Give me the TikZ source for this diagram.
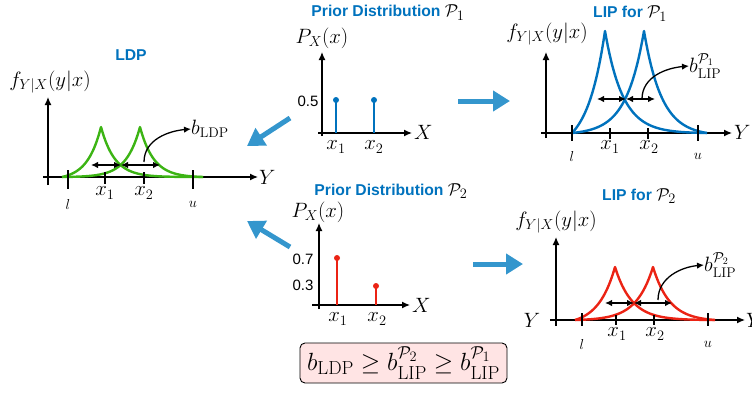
\documentclass[tikz,border=0pt]{standalone}
\usepackage{fontspec}
\usepackage{amsmath,amssymb}
\newfontfamily\hv{Liberation Sans}
\usetikzlibrary{arrows.meta}
\definecolor{tblue}{RGB}{0,114,189}
\definecolor{ablue}{RGB}{52,150,205}
\definecolor{cgreen}{RGB}{60,180,20}
\definecolor{cred}{RGB}{235,35,20}
\definecolor{pinkfill}{RGB}{255,228,228}
\newcommand\lapcurve[7]{%
\draw[#1] plot[domain=#2:#3,samples=40] (\x,{#5-#6*(exp(-(#3-\x)/#7)-exp(-(#3-#2)/#7))/(1-exp(-(#3-#2)/#7))})
 -- plot[domain=#3:#4,samples=70] (\x,{#5-#6*(exp(-(\x-#3)/#7)-exp(-(#4-#3)/#7))/(1-exp(-(#4-#3)/#7))});}
\newcommand\tmath[1]{\textcolor{black}{\mdseries\fontsize{19}{20}\selectfont$#1$}}
\begin{document}
\begin{tikzpicture}[x=1pt,y=-1pt,
  title/.style={font=\hv\bfseries\fontsize{15.7}{18}\selectfont, text=tblue, inner sep=0pt},
  lab/.style={font=\fontsize{20}{24}\selectfont, inner sep=0pt},
  smlab/.style={font=\fontsize{14}{16}\selectfont, inner sep=0pt},
  num/.style={font=\hv\fontsize{15}{17}\selectfont, inner sep=0pt},
  axis/.style={line width=1.3pt, -{Latex[length=8pt,width=7pt]}},
  tickln/.style={line width=1.3pt},
  dbl/.style={line width=1.3pt, {Latex[length=7pt,width=6.5pt]}-{Latex[length=7pt,width=6.5pt]}},
  curvarr/.style={line width=1.3pt, -{Latex[length=7pt,width=6.5pt]}},
  bigarrow/.style={line width=5pt, draw=ablue, -{Triangle[length=17pt,width=20pt]}, fill=ablue},
  crv/.style={line width=2.4pt, line join=round},
  stem/.style={line width=1.3pt},
  dot/.style={circle, inner sep=0pt, minimum size=6pt}
]
\useasboundingbox (0,0) rectangle (752,392);

% ---------------- LDP panel ----------------
\node[title] (tLDP) at (131,55) {LDP};
\node[lab] (fLDP) at (50,82) {$f_{Y|X}(y|x)$};
\coordinate (Lyb) at (48,185); \coordinate (Lyt) at (48,97);
\coordinate (Lxb) at (43,177); \coordinate (Lxt) at (258,177);
\draw[axis] (Lyb) -- (Lyt);
\draw[axis] (Lxb) -- (Lxt);
\node[lab, anchor=west] (LY) at (259,177) {$Y$};
\lapcurve{crv,cgreen}{62}{101}{203}{177}{50}{13.7}
\lapcurve{crv,cgreen}{62}{140}{203}{177}{50}{13.7}
\draw[tickln] (68,170) coordinate (Ll1) -- (68,189) coordinate (Ll2);
\draw[tickln] (105,172) coordinate (Lx1a) -- (105,184) coordinate (Lx1b);
\draw[tickln] (144,172) coordinate (Lx2a) -- (144,184) coordinate (Lx2b);
\draw[tickln] (193,170) coordinate (Lu1) -- (193,189) coordinate (Lu2);
\node[lab] (Lx1) at (105,193) {$x_1$};
\node[lab] (Lx2) at (144,193) {$x_2$};
\node[smlab] (Ll) at (68,204) {$l$};
\node[smlab] (Lu) at (193,204) {$u$};
\coordinate (Lda) at (91,165); \coordinate (Ldm) at (121,165); \coordinate (Ldb) at (160,165);
\draw[dbl] (Lda) -- (Ldm);
\draw[dbl] (Ldm) -- (Ldb);
\node[lab, anchor=west] (bLDP) at (191,129) {$b_{\mathrm{LDP}}$};
\coordinate (Lbs) at (144,162);
\draw[curvarr] (Lbs) to[out=90,in=185] (bLDP.west);

% ---------------- Prior 1 ----------------
\node[title] (tP1) at (388,12.5) {Prior Distribution \tmath{\mathcal{P}_1}};
\node[lab] (P1f) at (322,38) {$P_X(x)$};
\coordinate (P1yb) at (322,136); \coordinate (P1yt) at (322,52);
\coordinate (P1xb) at (318,133); \coordinate (P1xt) at (412,133);
\draw[axis] (P1yb) -- (P1yt);
\draw[axis] (P1xb) -- (P1xt);
\node[lab, anchor=west] (P1X) at (414,132) {$X$};
\node[dot, fill=tblue] (P1d1) at (336,100) {};
\node[dot, fill=tblue] (P1d2) at (374,100) {};
\coordinate (P1b1) at (336,133); \coordinate (P1b2) at (374,133);
\draw[stem, tblue] (P1b1) -- (P1d1.center);
\draw[stem, tblue] (P1b2) -- (P1d2.center);
\node[num] (P1n) at (308,101) {0.5};
\node[lab] (P1x1) at (336,147) {$x_1$};
\node[lab] (P1x2) at (374,147) {$x_2$};

% ---------------- LIP P1 ----------------
\node[title] (tL1) at (630,13.5) {LIP for \tmath{\mathcal{P}_1}};
\node[lab] (fL1) at (547,34) {$f_{Y|X}(y|x)$};
\coordinate (Ayb) at (546,138); \coordinate (Ayt) at (546,52);
\coordinate (Axb) at (541,133); \coordinate (Axt) at (732,133);
\draw[axis] (Ayb) -- (Ayt);
\draw[axis] (Axb) -- (Axt);
\node[lab, anchor=west] (AY) at (734,132) {$Y$};
\lapcurve{crv,tblue}{572}{605}{707}{133}{102}{17.7}
\lapcurve{crv,tblue}{572}{644}{707}{133}{102}{17.7}
\draw[tickln] (572,125) coordinate (Al1) -- (572,141) coordinate (Al2);
\draw[tickln] (610,128) coordinate (Ax1a) -- (610,139) coordinate (Ax1b);
\draw[tickln] (648,128) coordinate (Ax2a) -- (648,139) coordinate (Ax2b);
\draw[tickln] (698,125) coordinate (Au1) -- (698,141) coordinate (Au2);
\node[lab] (Ax1) at (610,147) {$x_1$};
\node[lab] (Ax2) at (649,147) {$x_2$};
\node[smlab] (Al) at (572,156) {$l$};
\node[smlab] (Au) at (698,156) {$u$};
\coordinate (Ada) at (597,99); \coordinate (Adm) at (626,99); \coordinate (Adb) at (655,99);
\draw[dbl] (Ada) -- (Adm);
\draw[dbl] (Adm) -- (Adb);
\node[lab, anchor=west] (bL1) at (689,66) {$b^{\mathcal{P}_1}_{\mathrm{LIP}}$};
\coordinate (Abs) at (642,99);
\draw[curvarr] (Abs) to[out=90,in=185] (bL1.west);

% ---------------- Prior 2 ----------------
\node[title] (tP2) at (391,191) {Prior Distribution \tmath{\mathcal{P}_2}};
\node[lab] (P2f) at (318,212) {$P_X(x)$};
\coordinate (P2yb) at (319,309); \coordinate (P2yt) at (319,223);
\coordinate (P2xb) at (312,305); \coordinate (P2xt) at (410,305);
\draw[axis] (P2yb) -- (P2yt);
\draw[axis] (P2xb) -- (P2xt);
\node[lab, anchor=west] (P2X) at (412,305) {$X$};
\node[dot, fill=cred] (P2d1) at (337,258) {};
\node[dot, fill=cred] (P2d2) at (376,286) {};
\coordinate (P2b1) at (337,305); \coordinate (P2b2) at (376,305);
\draw[stem, cred] (P2b1) -- (P2d1.center);
\draw[stem, cred] (P2b2) -- (P2d2.center);
\node[num] (P2n1) at (303,259) {0.7};
\node[num] (P2n2) at (303,285) {0.3};
\node[lab] (P2x1) at (338,319) {$x_1$};
\node[lab] (P2x2) at (377,319) {$x_2$};

% ---------------- LIP P2 ----------------
\node[title] (tL2) at (639,196) {LIP for \tmath{\mathcal{P}_2}};
\node[lab] (fL2) at (556,222) {$f_{Y|X}(y|x)$};
\coordinate (Byb) at (556,326); \coordinate (Byt) at (556,237);
\coordinate (Bxb) at (550,320); \coordinate (Bxt) at (745,320);
\draw[axis] (Byb) -- (Byt);
\draw[axis] (Bxb) -- (Bxt);
\node[lab] (BYl) at (532,320) {$Y$};
\node[lab, anchor=west] (BYr) at (746,320) {$Y$};
\lapcurve{crv,cred}{575}{615}{715}{320}{53}{16.7}
\lapcurve{crv,cred}{575}{653}{715}{320}{53}{16.7}
\draw[tickln] (582,313) coordinate (Bl1) -- (582,326) coordinate (Bl2);
\draw[tickln] (616,315) coordinate (Bx1a) -- (616,325) coordinate (Bx1b);
\draw[tickln] (654,315) coordinate (Bx2a) -- (654,325) coordinate (Bx2b);
\draw[tickln] (708,313) coordinate (Bu1) -- (708,326) coordinate (Bu2);
\node[lab] (Bx1) at (617,334) {$x_1$};
\node[lab] (Bx2) at (655,334) {$x_2$};
\node[smlab] (Bl) at (582,344) {$l$};
\node[smlab] (Bu) at (708,344) {$u$};
\coordinate (Bda) at (605,303); \coordinate (Bdm) at (634,303); \coordinate (Bdb) at (672,303);
\draw[dbl] (Bda) -- (Bdm);
\draw[dbl] (Bdm) -- (Bdb);
\node[lab, anchor=west] (bL2) at (704,265) {$b^{\mathcal{P}_2}_{\mathrm{LIP}}$};
\coordinate (Bbs) at (658,300);
\draw[curvarr] (Bbs) to[out=90,in=185] (bL2.west);

% ---------------- big arrows ----------------
\coordinate (G1s) at (458,101); \coordinate (G1e) at (510,101);
\coordinate (G2s) at (473,264); \coordinate (G2e) at (523,264);
\coordinate (G3s) at (290,118); \coordinate (G3e) at (247,146);
\coordinate (G4s) at (290,247); \coordinate (G4e) at (247,221);
\draw[bigarrow] (G1s) -- (G1e);
\draw[bigarrow] (G2s) -- (G2e);
\draw[bigarrow] (G3s) -- (G3e);
\draw[bigarrow] (G4s) -- (G4e);

% ---------------- bottom box ----------------
\node[draw, line width=0.9pt, rounded corners=5pt, fill=pinkfill, minimum width=207pt, minimum height=40pt, inner sep=0pt,
  font=\fontsize{27}{31}\selectfont] (box) at (403.5,363)
  {$b_{\mathrm{LDP}} \geq b^{\mathcal{P}_2}_{\mathrm{LIP}} \geq b^{\mathcal{P}_1}_{\mathrm{LIP}}$};
\end{tikzpicture}
\end{document}
